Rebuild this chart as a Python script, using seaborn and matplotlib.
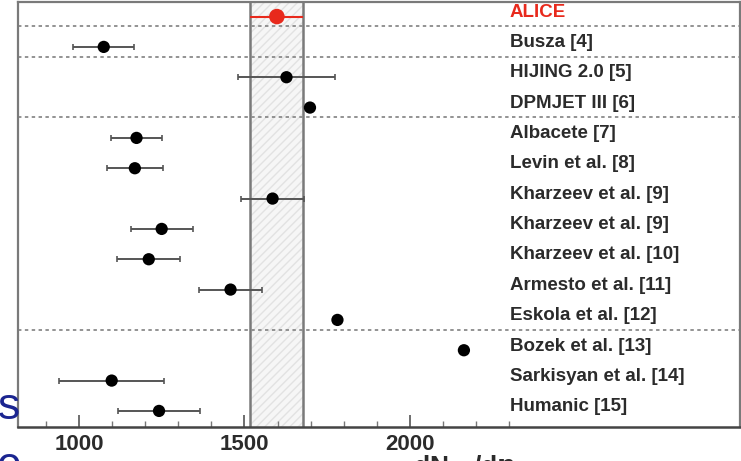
import numpy as np
import pandas as pd
import matplotlib
matplotlib.use("Agg")
import matplotlib.pyplot as plt
import matplotlib.transforms as mtransforms
from matplotlib.ticker import FixedLocator
import seaborn as sns

# Charged-particle multiplicity at mid-rapidity: measurement and model predictions
models = ["ALICE", "Busza [4]", "HIJING 2.0 [5]", "DPMJET III [6]", "Albacete [7]",
          "Levin et al. [8]", "Kharzeev et al. [9]", "Kharzeev et al. [9]",
          "Kharzeev et al. [10]", "Armesto et al. [11]", "Eskola et al. [12]",
          "Bozek et al. [13]", "Sarkisyan et al. [14]", "Humanic [15]"]
values = [1598, 1075, 1627, 1698, 1174, 1169, 1585, 1250, 1211, 1458, 1781, 2163, 1099, 1242]
errors = [80, 92, 147, np.nan, 78, 84, 95, 94, 95, 94, np.nan, np.nan, 158, 125]
group_breaks = [0, 1, 3, 10]   # separator drawn below these rows
major_ticks = [1000, 1500, 2000]
minor_ticks = [900, 1100, 1200, 1300, 1400, 1600, 1700, 1800, 1900, 2100, 2200, 2300]

df = pd.DataFrame({"model": models, "value": values, "error": errors})
df["row"] = np.arange(len(df))
df["kind"] = np.where(df["row"] == 0, "data", "model")

sns.set_theme(style="white")
plt.rcParams["font.family"] = ["Liberation Sans", "DejaVu Sans"]

W, H = 741, 461
fig = plt.figure(figsize=(W / 100, H / 100), dpi=100)
ax = fig.add_axes([18 / W, (H - 427) / H, (740 - 18) / W, (427 - 2) / H])

red = "#e8291c"
ink = "#2b2b2b"
frame = "#7a7a7a"

# measurement band
alice = df.iloc[0]
lo, hi = alice["value"] - alice["error"], alice["value"] + alice["error"]
ax.axvspan(lo, hi, facecolor="#f6f6f6", edgecolor="#e2e2e2", hatch="////",
           linewidth=0, zorder=0)
for xv in (lo, hi):
    ax.axvline(xv, color=frame, lw=1.8, zorder=1)

# group separators
for r in group_breaks:
    ax.axhline(r + 0.32, color="#8a8a8a", lw=1.3, dashes=(1.9, 1.9), zorder=1)

# error bars
mdl = df[df["kind"] == "model"].dropna(subset=["error"])
ax.errorbar(mdl["value"], mdl["row"], xerr=mdl["error"], fmt="none",
            ecolor="#555555", elinewidth=1.4, capsize=2.2, capthick=1.2, zorder=2)
ax.errorbar([alice["value"]], [alice["row"]], xerr=[alice["error"]], fmt="none",
            ecolor=red, elinewidth=1.5, capsize=0, zorder=2)

# points
sns.scatterplot(data=df, x="value", y="row", hue="kind", size="kind",
                palette={"data": red, "model": "black"},
                sizes={"data": 125, "model": 78},
                edgecolor="none", legend=False, ax=ax, zorder=3)

# labels
trans = mtransforms.blended_transform_factory(ax.transAxes, ax.transData)
for _, r in df.iterrows():
    ax.text(0.681, r["row"] - 0.14, r["model"], transform=trans,
            ha="left", va="center", fontsize=13.5, fontweight="bold",
            color=red if r["kind"] == "data" else ink)

ax.set_xlim(816, 2997)
ax.set_ylim(13.53, -0.48)
ax.set_xlabel("")
ax.set_ylabel("")
ax.set_yticks([])
ax.xaxis.set_major_locator(FixedLocator(major_ticks))
ax.xaxis.set_minor_locator(FixedLocator(minor_ticks))
ax.tick_params(axis="x", which="major", direction="in", length=9, width=1.2,
               color="#555555", bottom=True, labelsize=16, labelcolor=ink, pad=5)
ax.tick_params(axis="x", which="minor", direction="in", length=4.5, width=1.0,
               color="#777777", bottom=True)
for lab in ax.get_xticklabels():
    lab.set_fontweight("bold")
for s in ax.spines.values():
    s.set_color(frame)
    s.set_linewidth(1.6)
ax.spines["bottom"].set_color("#444444")
ax.spines["bottom"].set_linewidth(1.8)

# axis title (running off the lower edge) and slide text on the left
fig.text(413 / W, (H - 453) / H, r"dN$_{\mathbf{ch}}$/d$\mathbf{\eta}$", ha="left", va="top",
         fontsize=19, fontweight="bold", color=ink)
fig.text(-2 / W, (H - 419) / H, "s", ha="left", va="baseline", fontsize=32,
         color="#1b2590")
fig.text(-4 / W, (H - 478) / H, "e", ha="left", va="baseline", fontsize=32,
         color="#1b2590")

fig.savefig("out.png", dpi=100)
